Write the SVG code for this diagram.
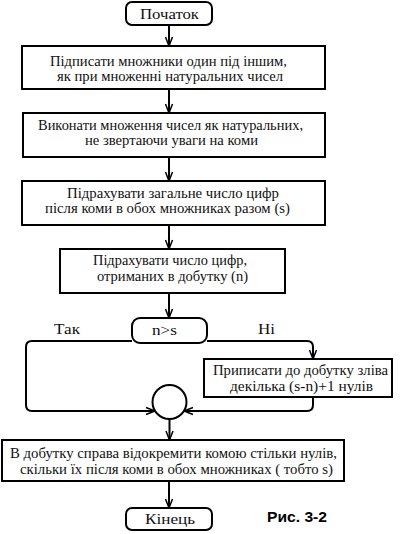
<svg xmlns="http://www.w3.org/2000/svg" width="407" height="534" viewBox="0 0 407 534" font-family="Times New Roman, Liberation Serif, DejaVu Serif, serif">
<style>
.b{fill:#fff;stroke:#000;stroke-width:2}
.t{font-size:15px;fill:#111;text-anchor:middle}
.c{fill:none;stroke:#000;stroke-width:2}
</style>
<defs>
<marker id="a" markerUnits="userSpaceOnUse" markerWidth="14" markerHeight="12" viewBox="-12 -6 14 12" refX="0" refY="0" orient="auto">
<path d="M-9,-3.5 L0,0 L-9,3.5" fill="none" stroke="#000" stroke-width="1.5"/>
</marker>
</defs>
<rect width="407" height="534" fill="#fff"/>
<g id="connectors" class="c">
<line x1="169" y1="25" x2="169" y2="46" marker-end="url(#a)"/>
<line x1="169" y1="89" x2="169" y2="113" marker-end="url(#a)"/>
<line x1="169" y1="157" x2="169" y2="181" marker-end="url(#a)"/>
<line x1="169" y1="225" x2="169" y2="249" marker-end="url(#a)"/>
<line x1="169" y1="293" x2="169" y2="318" marker-end="url(#a)"/>
<path d="M132,341 H32 Q26,341 26,347 V405 Q26,411 32,411 H155" marker-end="url(#a)"/>
<path d="M207,341 H307 Q313,341 313,347 V359" marker-end="url(#a)"/>
<path d="M313,397 V405 Q313,411 307,411 H184" marker-end="url(#a)"/>
<line x1="169.5" y1="419" x2="169.5" y2="440" marker-end="url(#a)"/>
<line x1="169" y1="481" x2="169" y2="508" marker-end="url(#a)"/>
</g>
<g id="start">
<rect class="b" x="126" y="2" width="86" height="23" rx="6"/>
<text class="t" x="169.5" y="19" textLength="59" lengthAdjust="spacingAndGlyphs">Початок</text>
</g>
<g id="step1">
<rect class="b" x="22" y="46" width="303" height="43"/>
<text class="t" x="168.5" y="66" textLength="237" lengthAdjust="spacingAndGlyphs">Підписати множники один під іншим,</text>
<text class="t" x="170" y="81" textLength="226" lengthAdjust="spacingAndGlyphs">як при множенні натуральних чисел</text>
</g>
<g id="step2">
<rect class="b" x="23" y="113" width="302" height="44"/>
<text class="t" x="170.5" y="130" textLength="265" lengthAdjust="spacingAndGlyphs">Виконати множення чисел як натуральних,</text>
<text class="t" x="171.5" y="145" textLength="173" lengthAdjust="spacingAndGlyphs">не звертаючи уваги на коми</text>
</g>
<g id="step3">
<rect class="b" x="22" y="181" width="303" height="44"/>
<text class="t" x="173" y="198" textLength="212" lengthAdjust="spacingAndGlyphs">Підрахувати загальне число цифр</text>
<text class="t" x="167.5" y="213" textLength="245" lengthAdjust="spacingAndGlyphs">після коми в обох множниках разом (s)</text>
</g>
<g id="step4">
<rect class="b" x="60" y="249" width="225" height="44"/>
<text class="t" x="170" y="265" textLength="154" lengthAdjust="spacingAndGlyphs">Підрахувати число цифр,</text>
<text class="t" x="172.5" y="281" textLength="151" lengthAdjust="spacingAndGlyphs">отриманих в добутку (n)</text>
</g>
<g id="decision">
<rect class="b" x="132" y="318" width="75" height="25" rx="8"/>
<text class="t" x="164.5" y="335" font-size="13" textLength="25" lengthAdjust="spacingAndGlyphs">n&gt;s</text>
</g>
<g id="label-yes">
<text class="t" x="67" y="334" textLength="26" lengthAdjust="spacingAndGlyphs">Так</text>
</g>
<g id="label-no">
<text class="t" x="266.5" y="334" textLength="17" lengthAdjust="spacingAndGlyphs">Ні</text>
</g>
<g id="step-zeros">
<rect class="b" x="204" y="359" width="188" height="38"/>
<text class="t" x="300.5" y="375" textLength="175" lengthAdjust="spacingAndGlyphs">Приписати до добутку зліва</text>
<text class="t" x="301.5" y="391" textLength="143" lengthAdjust="spacingAndGlyphs">декілька (s-n)+1 нулів</text>
</g>
<g id="junction">
<circle class="b" cx="169.5" cy="402" r="17"/>
</g>
<g id="step5">
<rect class="b" x="2" y="440" width="342" height="41"/>
<text class="t" x="173.5" y="458" textLength="327" lengthAdjust="spacingAndGlyphs">В добутку справа відокремити комою стільки нулів,</text>
<text class="t" x="176.5" y="474" textLength="313" lengthAdjust="spacingAndGlyphs">скільки їх після коми в обох множниках ( тобто s)</text>
</g>
<g id="end">
<rect class="b" x="126" y="508" width="86" height="22" rx="6"/>
<text class="t" x="170" y="524" textLength="50" lengthAdjust="spacingAndGlyphs">Кінець</text>
</g>
<text x="267" y="522" font-family="Liberation Sans, Arial, sans-serif" font-size="15" font-weight="bold" textLength="60" lengthAdjust="spacingAndGlyphs">Рис. 3-2</text>
</svg>
